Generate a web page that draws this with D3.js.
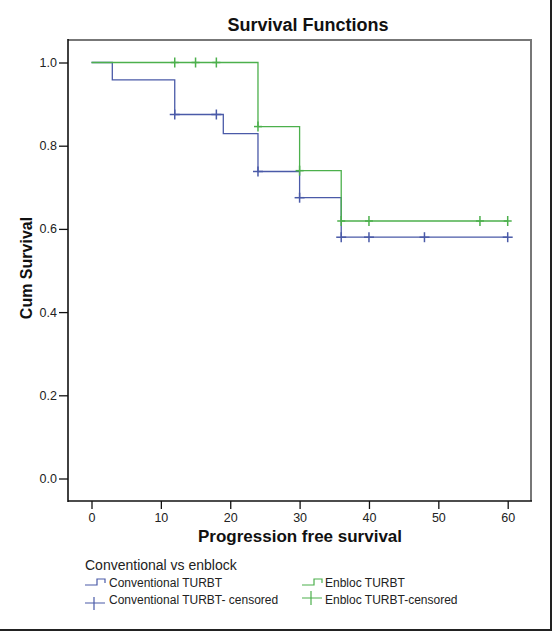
<!DOCTYPE html>
<html><head><meta charset="utf-8">
<script src="https://cdn.jsdelivr.net/npm/d3@7"></script>
<style>body{margin:0;background:#fff}svg{display:block}text{font-family:"Liberation Sans",Arial,sans-serif}</style>
</head><body>
<script>
// Data: Kaplan-Meier steps [time, survival]
const convSteps = [[0,1.0],[3,0.958],[12,0.875],[19,0.829],[24,0.738],[30,0.675],[36,0.580],[60,0.580]];
const convCensored = [[12,0.875],[18,0.875],[24,0.738],[30,0.675],[36,0.580],[40,0.580],[48,0.580],[60,0.580]];
const enblocSteps = [[0,1.0],[24,0.846],[30,0.740],[36,0.619],[60,0.619]];
const enblocCensored = [[12,1.0],[15,1.0],[18,1.0],[24,0.846],[30,0.740],[36,0.619],[40,0.619],[56,0.619],[60,0.619]];
const xTicks = [0,10,20,30,40,50,60];
const yTicks = [0,0.2,0.4,0.6,0.8,1.0];
const legendLabels = ["Conventional TURBT","Conventional TURBT- censored","Enbloc TURBT","Enbloc TURBT-censored"];

const W=552,H=631;
const blue="#4a5aa8", green="#4cb04c";
const svg=d3.select("body").append("svg").attr("width",W).attr("height",H);
svg.append("rect").attr("width",W).attr("height",H).attr("fill","#fff");

const x=d3.scaleLinear().domain([0,60]).range([91.5,507.7]);
const y=d3.scaleLinear().domain([0,1]).range([478.5,62.5]);
const L=68,T=40,R=531,B=501;

// frame
svg.append("path").attr("d",`M${L},${T}H${R}V${B}`).attr("fill","none").attr("stroke","#777").attr("stroke-width",2);
svg.append("line").attr("x1",L).attr("x2",L).attr("y1",T-1).attr("y2",B+1).attr("stroke","#111").attr("stroke-width",1.6);
svg.append("line").attr("x1",L).attr("x2",R+1).attr("y1",B).attr("y2",B).attr("stroke","#111").attr("stroke-width",1.6);

// axes
const yAxis=d3.axisLeft(y).tickValues(yTicks).tickFormat(d3.format(".1f")).tickSize(9).tickPadding(2);
const gy=svg.append("g").attr("transform",`translate(${L},0)`).call(yAxis);
gy.select(".domain").remove();
gy.selectAll("line").attr("stroke","#111").attr("stroke-width",1.3);
gy.selectAll("text").attr("font-size",12.5).attr("fill","#222");

const xAxis=d3.axisBottom(x).tickValues(xTicks).tickSize(8).tickPadding(4);
const gx=svg.append("g").attr("transform",`translate(0,${B})`).call(xAxis);
gx.select(".domain").remove();
gx.selectAll("line").attr("stroke","#111").attr("stroke-width",1.3);
gx.selectAll("text").attr("font-size",12.5).attr("fill","#222");

// titles
svg.append("text").attr("x",308).attr("y",31).attr("text-anchor","middle").attr("font-size",18).attr("font-weight","bold").attr("fill","#111").text("Survival Functions");
svg.append("text").attr("x",300).attr("y",542).attr("text-anchor","middle").attr("font-size",17).attr("font-weight","bold").attr("fill","#111").text("Progression free survival");
svg.append("text").attr("transform","translate(32,268) rotate(-90)").attr("text-anchor","middle").attr("font-size",16).attr("font-weight","bold").attr("fill","#111").text("Cum Survival");

// step lines
const line=d3.line().x(d=>x(d[0])).y(d=>y(d[1])).curve(d3.curveStepAfter);
svg.append("path").datum(convSteps).attr("d",line).attr("fill","none").attr("stroke",blue).attr("stroke-width",1.3);
svg.append("path").datum(enblocSteps).attr("d",line).attr("fill","none").attr("stroke",green).attr("stroke-width",1.3);

function censor(data,color,hw){
  const g=svg.append("g").attr("stroke",color).attr("stroke-width",1.5);
  data.forEach(d=>{
    g.append("line").attr("x1",x(d[0])).attr("x2",x(d[0])).attr("y1",y(d[1])-5).attr("y2",y(d[1])+5);
    g.append("line").attr("x1",x(d[0])-hw).attr("x2",x(d[0])+hw).attr("y1",y(d[1])).attr("y2",y(d[1]));
  });
}
censor(convCensored,blue,5);
censor(enblocCensored,green,4);

// legend
svg.append("text").attr("x",85).attr("y",570).attr("font-size",14).attr("fill","#222").text("Conventional vs enblock");
function legStep(x0,yy,color){
  svg.append("path").attr("d",`M${x0},${yy+3}H${x0+12}V${yy-3}H${x0+20}V${yy+1}`).attr("fill","none").attr("stroke",color).attr("stroke-width",1.2);
}
function legCensor(x0,yy,color,up,down){
  svg.append("path").attr("d",`M${x0},${yy}H${x0+20}M${x0+9},${yy-up}V${yy+down}`).attr("fill","none").attr("stroke",color).attr("stroke-width",1.2);
}
legStep(85,582,blue);
legCensor(85,603,blue,6,7);
legStep(302,582,green);
legCensor(302,598,green,7,7);
const lt=[[109,587,0],[109,604,1],[325,587,2],[325,604,3]];
lt.forEach(p=>svg.append("text").attr("x",p[0]).attr("y",p[1]).attr("font-size",12).attr("fill","#222").text(legendLabels[p[2]]));

// outer border on right and bottom
svg.append("path").attr("d",`M${W-1},0V${H-1}H0`).attr("fill","none").attr("stroke","#222").attr("stroke-width",2);
</script>
</body></html>
